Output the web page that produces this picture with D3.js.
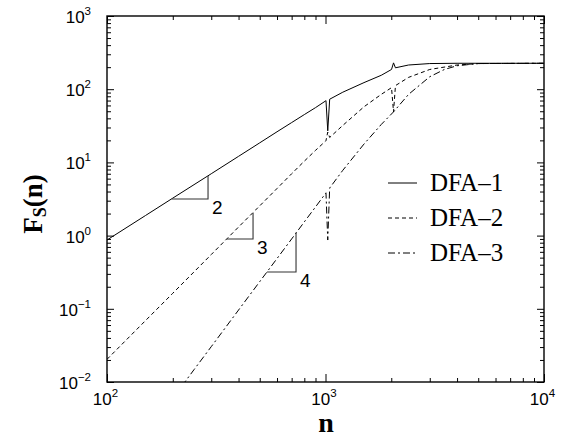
<!DOCTYPE html>
<html><head><meta charset="utf-8">
<script src="https://cdn.jsdelivr.net/npm/d3@7"></script>
<style>body{margin:0;background:#fff}</style></head>
<body><svg id="c" width="569" height="439"></svg>
<script>
// ---- data ----
const nDFA1 = [100,150,200,300,400,500,600,700,800,900,1000,1005,1024,1045,1200,1500,1800,2005,2048,2090,2400,3000,4000,6000,10000];
const fDFA1 = [0.87,1.88,3.25,7.0,12.1,18.5,26.2,35,45,56,69,70,27,73,91,123,155,186,229,196,214,224,226,226,226];

const nDFA2 = [100,150,200,300,400,500,600,700,800,900,1000,1005,1024,1045,1200,1500,1800,2005,2048,2090,2400,3000,4000,5000,10000];
const fDFA2 = [0.0204,0.0689,0.163,0.551,1.31,2.55,4.4,7.0,10.4,14.6,19.5,19.8,26,21.9,32,57.5,85,105,49,112,145,186,214,224,226];

const nDFA3 = [200,250,300,400,500,600,700,800,900,1000,1005,1024,1045,1200,1500,1800,2048,2400,3000,3500,4000,5000,10000];
const fDFA3 = [0.006,0.0147,0.0304,0.0962,0.235,0.486,0.90,1.54,2.46,3.76,3.84,0.87,4.47,7.8,17.8,33,49,85,148,186,209,224,226];

const seriesNames = ["DFA\u20131","DFA\u20132","DFA\u20133"];
const seriesDash = [null,"4,3","7,3,2,3"];

// slope triangles (n1,f1) -> (n2,f1) -> (n2,f2)
const triN1 = [198,354,540];
const triN2 = [290,466,733];
const triF1 = [3.16,0.90,0.318];
const triF2 = [6.5,2.04,1.1];
const triLabels = ["2","3","4"];

const xMajor = [1e2,1e3,1e4];
const xExp = ["2","3","4"];
const yMajor = [1e-2,1e-1,1e0,1e1,1e2,1e3];
const yExp = ["\u22122","\u22121","0","1","2","3"];
const mantissas = [2,3,4,5,6,7,8,9];

// ---- drawing ----
const svg = d3.select("#c");
const L=107, R=544, T=16, B=382;
const x = d3.scaleLog().domain([1e2,1e4]).range([L,R]);
const y = d3.scaleLog().domain([1e-2,1e3]).range([B,T]);

svg.append("defs").append("clipPath").attr("id","clip")
  .append("rect").attr("x",L).attr("y",T).attr("width",R-L).attr("height",B-T);

const line = d3.line().x(d=>x(d[0])).y(d=>y(d[1]));
const series = [d3.zip(nDFA1,fDFA1), d3.zip(nDFA2,fDFA2), d3.zip(nDFA3,fDFA3)];
const g = svg.append("g").attr("clip-path","url(#clip)");
series.forEach((s,i)=>{
  g.append("path").attr("d",line(s)).attr("fill","none").attr("stroke","#000")
   .attr("stroke-width",1).attr("stroke-dasharray",seriesDash[i]);
});

// minor tick values
const xMinor = [];
[1e2,1e3].forEach(b=>mantissas.forEach(m=>xMinor.push(b*m)));
const yMinor = [];
[1e-2,1e-1,1e0,1e1,1e2].forEach(b=>mantissas.forEach(m=>yMinor.push(b*m)));

function addAxis(gen, vals, size){
  return svg.append("g").call(gen.tickValues(vals).tickSize(size).tickSizeOuter(0).tickFormat(""))
    .call(a=>a.select(".domain").remove())
    .call(a=>a.selectAll("line").attr("stroke","#000").attr("stroke-width",1));
}
addAxis(d3.axisBottom(x), xMajor, -8).attr("transform",`translate(0,${B})`);
addAxis(d3.axisTop(x), xMajor, -8).attr("transform",`translate(0,${T})`);
addAxis(d3.axisBottom(x), xMinor, -4).attr("transform",`translate(0,${B})`);
addAxis(d3.axisTop(x), xMinor, -4).attr("transform",`translate(0,${T})`);
addAxis(d3.axisLeft(y), yMajor, -7).attr("transform",`translate(${L},0)`);
addAxis(d3.axisLeft(y), yMinor, -4).attr("transform",`translate(${L},0)`);
addAxis(d3.axisRight(y), yMajor, -7).attr("transform",`translate(${R},0)`);
addAxis(d3.axisRight(y), yMinor, -4).attr("transform",`translate(${R},0)`);

svg.append("rect").attr("x",L).attr("y",T).attr("width",R-L).attr("height",B-T)
  .attr("fill","none").attr("stroke","#000").attr("stroke-width",1.4);

// tick labels
const lab = "Liberation Sans, Arial, sans-serif";
xMajor.forEach((v,i)=>{
  const t = svg.append("text").attr("x",x(v)-1.5).attr("y",405).attr("text-anchor","middle")
    .attr("font-family",lab).attr("font-size",17);
  t.append("tspan").text("10");
  t.append("tspan").attr("dy",-8).attr("font-size",11.5).text(xExp[i]);
});
yMajor.forEach((v,i)=>{
  const t = svg.append("text").attr("x",91).attr("y",y(v)+7).attr("text-anchor","end")
    .attr("font-family",lab).attr("font-size",17);
  t.append("tspan").text("10");
  t.append("tspan").attr("dy",-8).attr("font-size",11.5).text(yExp[i]);
});

// slope triangles
triN1.forEach((n1,i)=>{
  const pts = [[n1,triF1[i]],[triN2[i],triF1[i]],[triN2[i],triF2[i]]];
  svg.append("path").attr("d",line(pts)).attr("fill","none").attr("stroke","#333").attr("stroke-width",1.1);
  svg.append("text").attr("x",x(triN2[i])+4).attr("y",y(triF1[i])+15)
    .attr("font-family",lab).attr("font-size",19).text(triLabels[i]);
});

// legend
const serif = "Liberation Serif, Times New Roman, serif";
seriesNames.forEach((nm,i)=>{
  const yy = 191 + i*35;
  svg.append("line").attr("x1",388).attr("x2",417).attr("y1",yy-8).attr("y2",yy-8)
    .attr("stroke","#000").attr("stroke-width",1).attr("stroke-dasharray",seriesDash[i]);
  svg.append("text").attr("x",430).attr("y",yy).attr("font-family",serif).attr("font-size",25).text(nm);
});

// axis titles
svg.append("text").attr("x",326).attr("y",432).attr("text-anchor","middle")
  .attr("font-family",serif).attr("font-weight","bold").attr("font-size",28).text("n");
const yt = svg.append("text").attr("transform","translate(42,204) rotate(-90)").attr("text-anchor","middle")
  .attr("font-family",serif).attr("font-weight","bold").attr("font-size",27);
yt.append("tspan").text("F");
yt.append("tspan").attr("font-size",18).attr("dy",4).text("S");
yt.append("tspan").attr("dy",-4).text("(n)");
</script></body></html>
